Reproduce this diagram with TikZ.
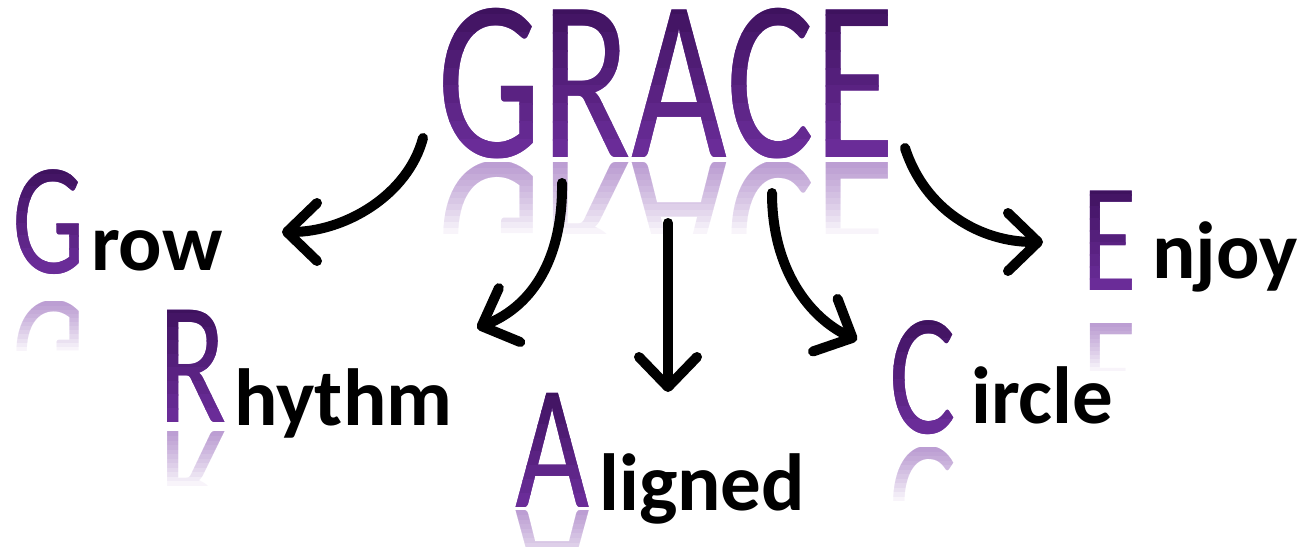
\documentclass[tikz,border=0pt]{standalone}
\usepackage{fontspec}
\setmainfont{Carlito}
\newfontfamily\capsfont{Carlito}
\usepackage{graphicx}
\usepackage{tikz}
\usetikzlibrary{arrows.meta}
\definecolor{gracedark}{HTML}{3E125E}
\definecolor{gracelight}{HTML}{7030A0}
\newcommand\narrow[1]{\scalebox{0.72}[1]{#1}}

\begin{document}
\begin{tikzpicture}[
  x=1pt,y=-1pt,
  capfont/.style={font=\fontsize{#1}{#1}\selectfont\capsfont,inner sep=0pt,anchor=base west},
  word/.style={font=\fontsize{81}{81}\selectfont\bfseries,inner sep=0pt,anchor=base west},
  arr/.style={line width=10pt,line cap=round,-{Straight Barb[round,length=30pt,width=58pt]}}
]
\useasboundingbox (0,0) rectangle (1306,546);
% purple capitals: shaded in bands, reflection below
\foreach \nm/\px/\py/\gap/\txt/\sz in {grace/437/157/5/GRACE/230, capg/12/273/28/G/160,
    capr/158/422/9/R/175, capa/515/507/3/A/178, capc/889/433/14/C/174, cape/1082/290/33/E/155}{
  \pgfmathsetmacro\capH{0.644*\sz}
  \pgfmathsetmacro\bandH{0.12*\capH}
  \pgfmathsetmacro\reflH{0.04*\capH}
  \foreach \i in {1,...,12}{
    \begin{scope}
      \clip (\px-20,\py+\gap) rectangle ++(720,\i*\reflH);
      \node[capfont=\sz,text=gracelight,text opacity=0.05,yscale=-1] (\nm-r\i) at (\px,\py+\gap) {\narrow{\txt}};
    \end{scope}
  }
  \node[capfont=\sz,text=gracelight] (\nm) at (\px,\py) {\narrow{\txt}};
  \foreach \i in {0,...,8}{
    \pgfmathtruncatemacro\mix{100-\i*11}
    \begin{scope}
      \clip (\px-20,\py-1.08*\capH+\i*\bandH) rectangle ++(720,\bandH+1);
      \node[capfont=\sz,text=gracedark!\mix!gracelight] (\nm-b\i) at (\px,\py) {\narrow{\txt}};
    \end{scope}
  }
}
% arrow ends
\coordinate (s1) at (423,138);
\coordinate (t1) at (282,232);
\coordinate (s2) at (562,183);
\coordinate (t2) at (477,328);
\coordinate (s3) at (668,223);
\coordinate (t3) at (668,392);
\coordinate (s4) at (772,193);
\coordinate (t4) at (857,340);
\coordinate (s5) at (905,148);
\coordinate (t5) at (1043,242);
\draw[arr] (s1) .. controls (408,195) and (345,232) .. (t1);
\draw[arr] (s2) .. controls (563,255) and (535,305) .. (t2);
\draw[arr] (s3) -- (t3);
\draw[arr] (s4) .. controls (772,270) and (810,318) .. (t4);
\draw[arr] (s5) .. controls (925,210) and (980,242) .. (t5);
% words
\node[word] (row) at (91,270) {row};
\node[word] (hythm) at (234,425) {hythm};
\node[word] (ligned) at (599,510) {ligned};
\node[word] (ircle) at (971,423) {ircle};
\node[word] (njoy) at (1152,278) {njoy};
\end{tikzpicture}
\end{document}
